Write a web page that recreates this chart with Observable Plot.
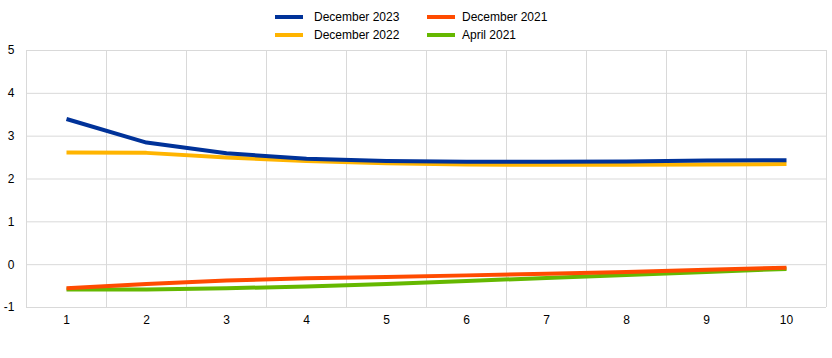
<!DOCTYPE html>
<html>
<head>
<meta charset="utf-8">
<script src="https://cdn.jsdelivr.net/npm/d3@7"></script>
<script src="https://cdn.jsdelivr.net/npm/@observablehq/plot@0.6"></script>
<style>
  body { margin: 0; background: #fff; font-family: "Liberation Sans", Arial, sans-serif; }
  #legend { position: relative; width: 832px; height: 44px; font-size: 12px; color: #000; }
  .item { position: absolute; display: flex; align-items: center; height: 14px; }
  .sw { width: 28px; height: 4px; margin-right: 11px; }
</style>
</head>
<body>
<div id="legend"></div>
<div id="chart"></div>
<script>
const maturities = [1, 2, 3, 4, 5, 6, 7, 8, 9, 10];
const seriesNames = ["December 2023", "December 2022", "December 2021", "April 2021"];
const seriesColors = ["#003299", "#FFB400", "#FF4B00", "#65B800"];
const dec2023 = [3.40, 2.85, 2.60, 2.47, 2.42, 2.40, 2.40, 2.41, 2.43, 2.44];
const dec2022 = [2.62, 2.61, 2.50, 2.42, 2.37, 2.34, 2.33, 2.33, 2.34, 2.35];
const dec2021 = [-0.55, -0.45, -0.37, -0.32, -0.29, -0.25, -0.21, -0.17, -0.12, -0.07];
const apr2021 = [-0.58, -0.58, -0.55, -0.51, -0.45, -0.38, -0.31, -0.24, -0.17, -0.10];
const yTicks = [-1, 0, 1, 2, 3, 4, 5];

const valuesBySeries = [dec2023, dec2022, dec2021, apr2021];
const rows = [];
// draw order: April 2021, December 2021, December 2022, December 2023 (last on top)
[3, 2, 1, 0].forEach(si => {
  maturities.forEach((m, i) => rows.push({series: seriesNames[si], x: m, y: valuesBySeries[si][i]}));
});
const bandEdges = [...maturities.map(m => m - 0.5), maturities[maturities.length - 1] + 0.5];

// legend
const legend = document.getElementById("legend");
const legendPos = [
  {left: 275, top: 10}, {left: 275, top: 28},
  {left: 427, top: 10}, {left: 427, top: 28}
];
seriesNames.forEach((name, i) => {
  const d = document.createElement("div");
  d.className = "item";
  d.style.left = legendPos[i].left + "px";
  d.style.top = legendPos[i].top + "px";
  const sw = document.createElement("span");
  sw.className = "sw";
  sw.style.background = seriesColors[i];
  if (i >= 2) sw.style.marginRight = "7px";
  d.appendChild(sw);
  const t = document.createElement("span");
  t.textContent = name;
  d.appendChild(t);
  legend.appendChild(d);
});

const chart = Plot.plot({
  width: 832,
  height: 314,
  marginTop: 6,
  marginBottom: 51,
  marginLeft: 26,
  marginRight: 6,
  style: {fontFamily: "Liberation Sans, Arial, sans-serif", fontSize: "12px", color: "#000", background: "#fff"},
  x: {domain: [0.5, 10.5], ticks: maturities, tickSize: 0, tickPadding: 8, tickFormat: d => String(d), label: null},
  y: {domain: [-1, 5], ticks: yTicks, tickSize: 0, tickPadding: 12, tickFormat: d => String(d), label: null},
  color: {domain: seriesNames, range: seriesColors},
  marks: [
    Plot.ruleY(yTicks, {stroke: "#d9d9d9", strokeWidth: 1}),
    Plot.ruleX(bandEdges, {stroke: "#d9d9d9", strokeWidth: 1}),
    Plot.line(rows, {x: "x", y: "y", z: "series", stroke: "series", strokeWidth: 4, strokeLinecap: "butt", strokeLinejoin: "round"})
  ]
});
document.getElementById("chart").appendChild(chart);
</script>
</body>
</html>
